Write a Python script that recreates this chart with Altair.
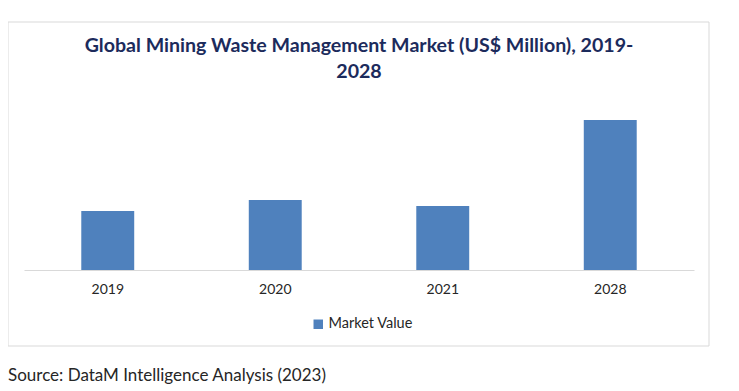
import altair as alt
import pandas as pd

years = ["2019", "2020", "2021", "2028"]
values = [1180, 1400, 1280, 3000]
series_name = "Market Value"
title_lines = ["Global Mining Waste Management Market (US$ Million), 2019-", "2028"]
source_text = "Source: DataM Intelligence Analysis (2023)"

bar_color = "#4F81BD"
title_color = "#1C2B5C"
text_color = "#262626"
frame_color = "#D9D9D9"

df = pd.DataFrame({"Year": years, "Value": values, "Series": [series_name] * len(years)})

bars = alt.Chart(df).mark_bar().encode(
    x=alt.X(
        "Year:N",
        sort=years,
        scale=alt.Scale(paddingInner=0.684, paddingOuter=0.342),
        axis=alt.Axis(
            title=None, labelAngle=0, ticks=False, tickSize=0, grid=False,
            domainColor=frame_color, domainWidth=1, labelPadding=12,
            labelFontSize=14, labelFont="Lato", labelColor=text_color,
            zindex=1,
        ),
    ),
    y=alt.Y("Value:Q", scale=alt.Scale(domain=[0, 3400]), axis=None),
    color=alt.Color(
        "Series:N",
        scale=alt.Scale(range=[bar_color]),
        legend=alt.Legend(
            title=None, orient="none", legendX=287, legendY=217,
            symbolType="square", symbolSize=90, symbolStrokeWidth=0,
            labelFontSize=14.5, labelFont="Lato", labelColor=text_color,
            labelOffset=3,
        ),
    ),
)

frame = alt.Chart(pd.DataFrame({"k": [0]})).mark_rect(
    fill="transparent", stroke=frame_color, strokeWidth=1
).encode(
    x=alt.value(-16), x2=alt.value(685), y=alt.value(-78), y2=alt.value(246)
)

source = alt.Chart(pd.DataFrame({"t": [source_text]})).mark_text(
    align="left", baseline="middle", fontSize=17, font="Lato", color=text_color
).encode(
    x=alt.value(-16), y=alt.value(276), text="t:N"
)

chart = alt.layer(frame, bars, source).properties(
    width=670,
    height=170,
    autosize=alt.AutoSizeParams(type="none"),
    padding={"left": 16, "top": 92, "right": 37, "bottom": 117},
    title=alt.TitleParams(
        text=title_lines, font="Lato", fontSize=19.6, fontWeight="bold",
        color=title_color, anchor="middle", frame="group", lineHeight=26,
        offset=0, dy=61,
    ),
).configure_view(stroke=None)

chart.save("out.html", embed_options={"renderer": "svg", "actions": False})
